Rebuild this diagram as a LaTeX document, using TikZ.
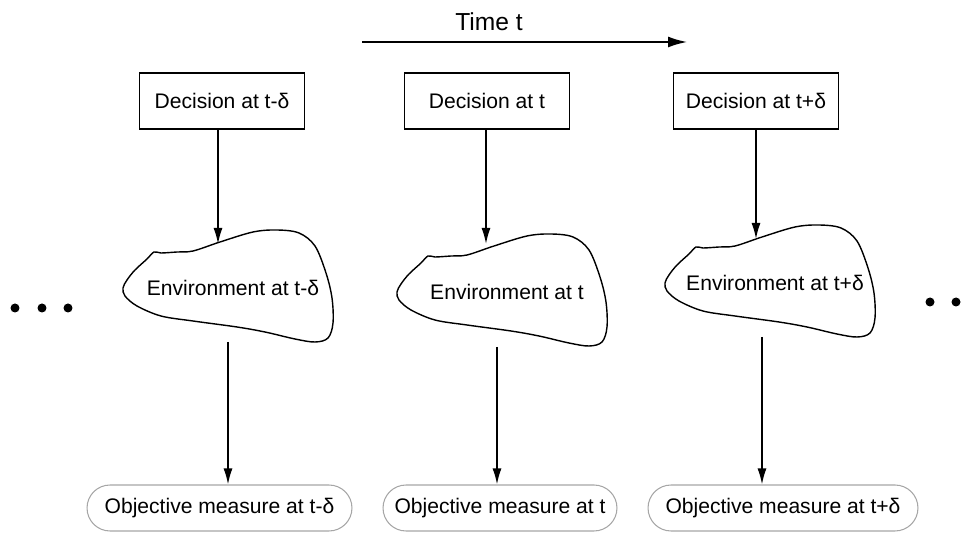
\documentclass[tikz,border=0pt]{standalone}
\usepackage{fontspec}
\setmainfont{Liberation Sans}
\usetikzlibrary{arrows.meta}

\tikzset{
  decbox/.style={draw=black, line width=0.6pt, minimum width=3.3cm, minimum height=1.12cm,
                 inner sep=0pt, font=\fontsize{12}{14}\selectfont},
  envtext/.style={inner sep=0pt, font=\fontsize{12}{14}\selectfont},
  objbox/.style={draw=black!35, line width=0.6pt, rounded corners=0.46cm, minimum height=0.92cm,
                 inner sep=0pt, font=\fontsize{12}{14}\selectfont},
  cloudline/.style={draw=black, line width=0.8pt},
  flow/.style={draw=black, line width=0.9pt, -{Latex[length=3.2mm, width=1.8mm]}},
  timeflow/.style={draw=black, line width=1.6pt, -{Latex[length=4mm, width=2.2mm]}},
  dot/.style={circle, fill=black, inner sep=0pt, minimum size=0.18cm},
}

% Irregular cloud outline drawn around a given centre
\newcommand\envcloud[1]{%
  \draw[cloudline, shift={(#1)}] plot[smooth cycle, tension=0.55] coordinates {
    (-98,-18) (-86,-29) (-79,-36) (-72,-35) (-56,-36) (-40,-37) (-13,-46)
    (20,-56) (44,-58) (66,-55) (82,-42) (93,-15) (99,10) (100,35) (95,50)
    (82,54) (62,51) (32,44) (4,39) (-40,33) (-72,28) (-96,18) (-108,8) (-110,0) (-106,-8)
  };}

\begin{document}
\begin{tikzpicture}[x=0.02cm, y=-0.02cm]
  \useasboundingbox (0,0) rectangle (978,533);

  % time axis
  \coordinate (tstart) at (362,42);
  \coordinate (tend) at (688,42);
  \draw[timeflow] (tstart) -- (tend);
  \node[font=\fontsize{14}{16}\selectfont] (timelabel) at (489,22) {Time t};

  % decisions
  \node[decbox] (d1) at (222,101) {Decision at t-δ};
  \node[decbox] (d2) at (487,101) {Decision at t};
  \node[decbox] (d3) at (756,101) {Decision at t+δ};

  % environments
  \node[envtext] (e1) at (233,288) {Environment at t-δ};
  \node[envtext] (e2) at (507,292) {Environment at t};
  \node[envtext] (e3) at (775,283) {Environment at t+δ};
  \envcloud{e1.center}
  \envcloud{e2.center}
  \envcloud{e3.center}

  \coordinate (e1in) at (218,244);
  \coordinate (e2in) at (486,244);
  \coordinate (e3in) at (756,239);
  \coordinate (e1out) at (228,342);
  \coordinate (e2out) at (497,347);
  \coordinate (e3out) at (762,337);

  % objective measures
  \node[objbox, minimum width=5.3cm] (o1) at (219.5,508) {Objective measure at t-δ};
  \node[objbox, minimum width=4.68cm] (o2) at (500,508) {Objective measure at t};
  \node[objbox, minimum width=5.4cm] (o3) at (783,508) {Objective measure at t+δ};

  % flows
  \draw[flow] (e1in |- d1.south) -- (e1in);
  \draw[flow] (e2in |- d2.south) -- (e2in);
  \draw[flow] (e3in |- d3.south) -- (e3in);
  \draw[flow] (e1out) -- (e1out |- o1.north);
  \draw[flow] (e2out) -- (e2out |- o2.north);
  \draw[flow] (e3out) -- (e3out |- o3.north);

  % continuation dots
  \node[dot] (l1) at (15,308) {};
  \node[dot] (l2) at (42,308) {};
  \node[dot] (l3) at (68,308) {};
  \node[dot] (r1) at (930,302) {};
  \node[dot] (r2) at (956,302) {};
\end{tikzpicture}
\end{document}
